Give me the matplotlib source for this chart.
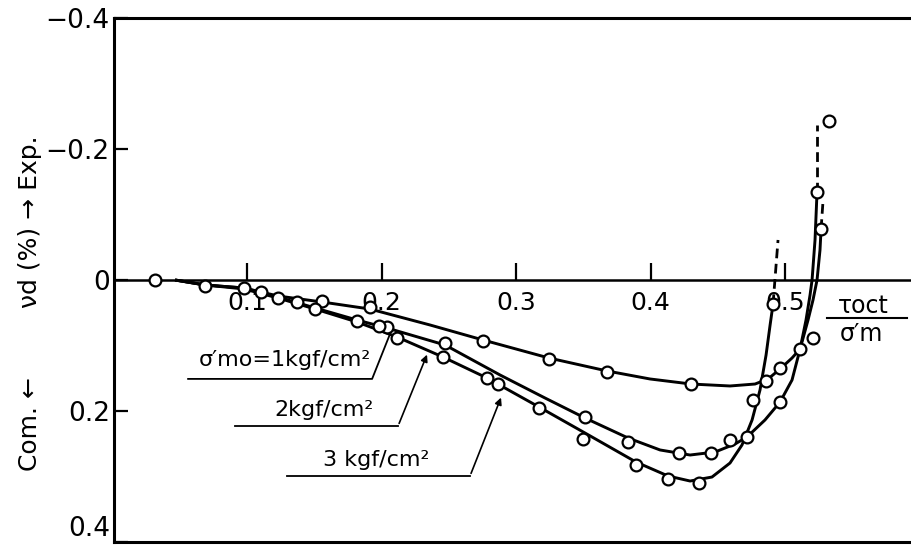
import matplotlib
matplotlib.use("Agg")
import matplotlib.pyplot as plt

plt.rcParams['font.family'] = ['DejaVu Sans']

# ---------------- data ----------------
# isolated first point and common initial points
p0_x = [0.0316]
p0_y = [0.0]
common_x = [0.0688, 0.0978, 0.1104, 0.1230, 0.1372]
common_y = [0.0092, 0.0122, 0.0183, 0.0275, 0.0336]

# measured points, sigma'mo = 1 kgf/cm2
p1_x = [0.1558, 0.1914, 0.2755, 0.3245, 0.3677, 0.4301, 0.4859, 0.4963, 0.5208, 0.5268]
p1_y = [0.0321, 0.0412, 0.0931, 0.1206, 0.1405, 0.1588, 0.1542, 0.1344, 0.0885, -0.0779]
# measured points, 2 kgf/cm2
p2_x = [0.1506, 0.1818, 0.2041, 0.2472, 0.3513, 0.3833, 0.4212, 0.4450, 0.4717, 0.4963, 0.5112, 0.5238, 0.5327]
p2_y = [0.0443, 0.0626, 0.0718, 0.0962, 0.2092, 0.2473, 0.2641, 0.2641, 0.2397, 0.1863, 0.1053, -0.1344, -0.2427]
# measured points, 3 kgf/cm2
p3_x = [0.1981, 0.2115, 0.2457, 0.2784, 0.2866, 0.3171, 0.3498, 0.3892, 0.4130, 0.4361, 0.4591, 0.4762, 0.4911]
p3_y = [0.0702, 0.0885, 0.1176, 0.1496, 0.1588, 0.1954, 0.2427, 0.2824, 0.3038, 0.3099, 0.2443, 0.1832, 0.0366]

# fitted curves (solid)
c1_x = [0.0465, 0.0688, 0.0978, 0.1230, 0.1558, 0.1914, 0.2361, 0.2755, 0.3245, 0.3677, 0.3996,
        0.4301, 0.4591, 0.4777, 0.4874, 0.4963, 0.5052, 0.5112, 0.5171, 0.5208, 0.5238, 0.5260, 0.5268]
c1_y = [0.0, 0.0076, 0.0122, 0.0244, 0.0336, 0.0443, 0.0687, 0.0916, 0.1191, 0.1389, 0.1511,
        0.1588, 0.1618, 0.1588, 0.1511, 0.1359, 0.1191, 0.1053, 0.0611, 0.0305, 0.0, -0.0458, -0.0779]
c2_x = [0.0465, 0.0688, 0.0978, 0.1230, 0.1506, 0.1818, 0.2041, 0.2472, 0.2881, 0.3216, 0.3513,
        0.3833, 0.4071, 0.4294, 0.4480, 0.4628, 0.4717, 0.4851, 0.4963, 0.5052, 0.5112, 0.5156,
        0.5186, 0.5201, 0.5223, 0.5238]
c2_y = [0.0, 0.0076, 0.0122, 0.0260, 0.0427, 0.0611, 0.0733, 0.0992, 0.1450, 0.1802, 0.2107,
        0.2412, 0.2595, 0.2672, 0.2626, 0.2504, 0.2397, 0.2137, 0.1863, 0.1527, 0.1053, 0.0611,
        0.0229, 0.0, -0.0611, -0.1344]
c3_x = [0.0465, 0.0688, 0.0978, 0.1230, 0.1506, 0.1818, 0.2115, 0.2457, 0.2784, 0.3171, 0.3513,
        0.3892, 0.4130, 0.4294, 0.4457, 0.4591, 0.4680, 0.4755, 0.4814, 0.4859, 0.4889, 0.4911]
c3_y = [0.0, 0.0076, 0.0137, 0.0275, 0.0443, 0.0641, 0.0870, 0.1176, 0.1496, 0.1939, 0.2336,
        0.2779, 0.2992, 0.3069, 0.3008, 0.2794, 0.2519, 0.2137, 0.1679, 0.1145, 0.0687, 0.0366]

# extrapolated (dashed) ends
d1_x = [0.5268, 0.5283]
d1_y = [-0.0779, -0.1221]
d2_x = [0.5238, 0.5238]
d2_y = [-0.1344, -0.2366]
d3_x = [0.4911, 0.4948]
d3_y = [0.0366, -0.0611]

x_ticks = [0.1, 0.2, 0.3, 0.4, 0.5]
x_ticklabels = ['0.1', '0.2', '0.3', '0.4', '0.5']
y_ticks = [-0.4, -0.2, 0.0, 0.2, 0.4]
y_ticklabels = ['\u22120.4', '\u22120.2', '0', '0.2', '0.4']

labels = ["\u03c3\u2032mo=1kgf/cm\u00b2", "2kgf/cm\u00b2", "3 kgf/cm\u00b2"]

# ---------------- figure ----------------
W, H = 912, 553
fig = plt.figure(figsize=(W / 100, H / 100), dpi=100)
ax = fig.add_axes([114 / W, 11 / H, (W - 114) / W, (542 - 18) / H])
ax.set_xlim(0.0011, 0.5944)
ax.set_ylim(0.4, -0.4)

for s in ['left', 'top', 'bottom']:
    ax.spines[s].set_linewidth(2.2)
ax.spines['right'].set_visible(False)

ax.set_xticks([])
ax.set_yticks(y_ticks)
ax.set_yticklabels(y_ticklabels)
ax.tick_params(axis='y', direction='in', length=10, width=1.6, labelsize=19, pad=3)
ax.get_yticklabels()[-1].set_va('bottom')

# zero line carrying the x ticks
sec = ax.secondary_xaxis(0.5)
sec.set_alignment('bottom')
sec.set_xticks(x_ticks)
sec.set_xticklabels(x_ticklabels)
sec.tick_params(direction='in', length=12, width=1.6, labelsize=18, pad=8)
sec.spines['bottom'].set_linewidth(1.8)

lw = 2.1
for cx, cy in [(c1_x, c1_y), (c2_x, c2_y), (c3_x, c3_y)]:
    ax.plot(cx, cy, color='black', lw=lw, solid_capstyle='butt', zorder=3)
for dx, dy in [(d1_x, d1_y), (d2_x, d2_y), (d3_x, d3_y)]:
    ax.plot(dx, dy, color='black', lw=2.0, linestyle=(0, (3.5, 2)), zorder=3)

mk = dict(linestyle='none', marker='o', markersize=8.5, markerfacecolor='white',
          markeredgecolor='black', markeredgewidth=1.6, zorder=4)
for px, py in [(p0_x, p0_y), (common_x, common_y), (p1_x, p1_y), (p2_x, p2_y), (p3_x, p3_y)]:
    ax.plot(px, py, **mk)

# labels with leader lines
ax.text(0.128, 0.122, labels[0], fontsize=16, ha='center', va='center')
ax.plot([0.0562, 0.1930, 0.2060], [0.151, 0.151, 0.084], color='black', lw=1.3)

ax.text(0.157, 0.199, labels[1], fontsize=16, ha='center', va='center')
ax.plot([0.0910, 0.2123], [0.2229, 0.2229], color='black', lw=1.3)
ax.annotate('', xy=(0.2346, 0.110), xytext=(0.2123, 0.2229),
            arrowprops=dict(arrowstyle='-|>', color='black', lw=1.2, mutation_scale=10))

ax.text(0.196, 0.275, labels[2], fontsize=16, ha='center', va='center')
ax.plot([0.1297, 0.2658], [0.2992, 0.2992], color='black', lw=1.3)
ax.annotate('', xy=(0.2896, 0.1756), xytext=(0.2658, 0.2992),
            arrowprops=dict(arrowstyle='-|>', color='black', lw=1.2, mutation_scale=10))

# x quantity label (fraction)
ax.text(0.558, 0.040, "\u03c4oct", fontsize=17, ha='center', va='center')
ax.plot([0.531, 0.591], [0.058, 0.058], color='black', lw=1.5)
ax.text(0.557, 0.083, "\u03c3\u2032m", fontsize=17, ha='center', va='center')

# y label
fig.text(30 / W, 1 - 222 / H, "\u03bdd (%) \u2192 Exp.", rotation=90, fontsize=18,
         ha='center', va='center')
fig.text(30 / W, 1 - 424 / H, "Com. \u2190", rotation=90, fontsize=18,
         ha='center', va='center')

fig.savefig("out.png", dpi=100)
